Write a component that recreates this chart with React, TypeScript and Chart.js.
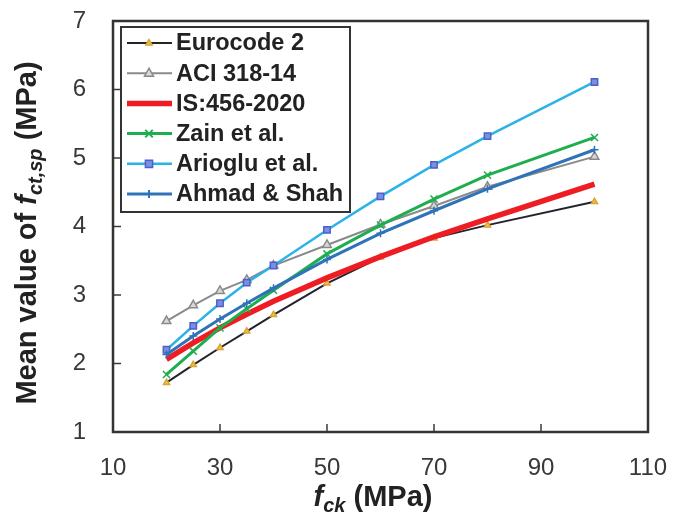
import React, { useEffect, useRef } from "react";
import { Chart, registerables } from "chart.js";

Chart.register(...registerables);

const fckValues = [20, 25, 30, 35, 40, 50, 60, 70, 80, 100];
const eurocode2 = [1.72, 1.98, 2.23, 2.47, 2.71, 3.17, 3.55, 3.83, 4.02, 4.36];
const aci31814 = [2.62, 2.85, 3.06, 3.22, 3.43, 3.73, 4.03, 4.3, 4.58, 5.02];
const is4562020 = [2.06, 2.3, 2.52, 2.72, 2.91, 3.25, 3.56, 3.85, 4.11, 4.62];
const zainEtAl = [1.84, 2.18, 2.52, 2.8, 3.07, 3.6, 4.02, 4.4, 4.75, 5.3];
const arioglu = [2.2, 2.55, 2.88, 3.18, 3.43, 3.95, 4.44, 4.9, 5.32, 6.11];
const ahmadShah = [2.13, 2.4, 2.65, 2.88, 3.1, 3.52, 3.9, 4.23, 4.55, 5.12];

const seriesNames = ["Eurocode 2", "ACI 318-14", "IS:456-2020", "Zain et al.", "Arioglu et al.", "Ahmad & Shah"];
const xTickMin = 10;
const xTickMax = 110;
const xTickStep = 20;
const yTickMin = 1;
const yTickMax = 7;
const yTickStep = 1;

type Sty = {
  line: string;
  width: number;
  point: string;
  radius: number;
  fill: string;
  stroke: string;
};

const styles: Sty[] = [
  { line: "#23232e", width: 2, point: "triangle", radius: 3.5, fill: "#f2c14e", stroke: "#d9a431" },
  { line: "#8a8a8a", width: 2, point: "triangle", radius: 5, fill: "#d8d8d8", stroke: "#8a8a8a" },
  { line: "#ee1d23", width: 5.5, point: "none", radius: 0, fill: "#ee1d23", stroke: "#ee1d23" },
  { line: "#1fae4f", width: 3, point: "crossRot", radius: 5, fill: "#1fae4f", stroke: "#1fae4f" },
  { line: "#2bb2e8", width: 2.5, point: "rect", radius: 4.5, fill: "#7b8ee0", stroke: "#4a62c8" },
  { line: "#2e73b8", width: 3, point: "cross", radius: 4, fill: "#2e73b8", stroke: "#2e73b8" },
];

const FONT = "'Liberation Sans', Arial, sans-serif";

function drawMarker(ctx: CanvasRenderingContext2D, s: Sty, x: number, y: number) {
  if (s.point === "none") return;
  const r = s.radius;
  ctx.save();
  ctx.fillStyle = s.fill;
  ctx.strokeStyle = s.stroke;
  ctx.lineWidth = 1.5;
  ctx.beginPath();
  if (s.point === "triangle") {
    ctx.moveTo(x, y - r);
    ctx.lineTo(x + r * 0.9, y + r * 0.6);
    ctx.lineTo(x - r * 0.9, y + r * 0.6);
    ctx.closePath();
    ctx.fill();
    ctx.stroke();
  } else if (s.point === "rect") {
    ctx.rect(x - r * 0.8, y - r * 0.8, r * 1.6, r * 1.6);
    ctx.fill();
    ctx.stroke();
  } else if (s.point === "crossRot") {
    ctx.lineWidth = 2;
    const d = r * 0.75;
    ctx.moveTo(x - d, y - d);
    ctx.lineTo(x + d, y + d);
    ctx.moveTo(x + d, y - d);
    ctx.lineTo(x - d, y + d);
    ctx.stroke();
  } else if (s.point === "cross") {
    ctx.lineWidth = 2;
    ctx.moveTo(x, y - r);
    ctx.lineTo(x, y + r);
    ctx.stroke();
  }
  ctx.restore();
}

function drawRichText(
  ctx: CanvasRenderingContext2D,
  parts: { t: string; italic?: boolean; sub?: boolean }[],
  size: number,
  cx: number,
  cy: number
) {
  const subSize = Math.round(size * 0.68);
  let total = 0;
  const widths = parts.map((p) => {
    ctx.font = `${p.italic ? "italic " : ""}bold ${p.sub ? subSize : size}px ${FONT}`;
    const w = ctx.measureText(p.t).width;
    total += w;
    return w;
  });
  let x = cx - total / 2;
  ctx.textBaseline = "middle";
  ctx.textAlign = "left";
  parts.forEach((p, i) => {
    ctx.font = `${p.italic ? "italic " : ""}bold ${p.sub ? subSize : size}px ${FONT}`;
    ctx.fillText(p.t, x, p.sub ? cy + size * 0.3 : cy);
    x += widths[i];
  });
}

const framePlugin = {
  id: "framePlugin",
  afterDatasetsDraw(chart: any) {
    const { ctx, chartArea } = chart;
    const { left, right, top, bottom } = chartArea;
    const xs = chart.scales.x;
    const ys = chart.scales.y;
    ctx.save();
    ctx.strokeStyle = "#3a3a3a";
    ctx.lineWidth = 1.5;
    for (let v = xTickMin + xTickStep; v < xTickMax; v += xTickStep) {
      const px = xs.getPixelForValue(v);
      ctx.beginPath();
      ctx.moveTo(px, bottom);
      ctx.lineTo(px, bottom - 8);
      ctx.stroke();
    }
    for (let v = yTickMin + yTickStep; v < yTickMax; v += yTickStep) {
      const py = ys.getPixelForValue(v);
      ctx.beginPath();
      ctx.moveTo(left, py);
      ctx.lineTo(left + 8, py);
      ctx.stroke();
    }
    ctx.strokeStyle = "#333333";
    ctx.lineWidth = 2.5;
    ctx.strokeRect(left, top, right - left, bottom - top);

    // legend
    const lx = left + 8;
    const ly = top + 6;
    const lw = 229;
    const lh = 185;
    ctx.fillStyle = "#ffffff";
    ctx.fillRect(lx, ly, lw, lh);
    ctx.strokeStyle = "#333333";
    ctx.lineWidth = 2;
    ctx.strokeRect(lx, ly, lw, lh);
    seriesNames.forEach((name, i) => {
      const s = styles[i];
      const cy = ly + 16 + i * 30.2;
      ctx.beginPath();
      ctx.strokeStyle = s.line;
      ctx.lineWidth = s.width;
      ctx.moveTo(lx + 6, cy);
      ctx.lineTo(lx + 51, cy);
      ctx.stroke();
      drawMarker(ctx, s, lx + 28, cy);
      ctx.fillStyle = "#222222";
      ctx.font = `bold 23.5px ${FONT}`;
      ctx.textAlign = "left";
      ctx.textBaseline = "middle";
      ctx.fillText(name, lx + 55, cy + 1);
    });

    // axis titles
    ctx.fillStyle = "#222222";
    drawRichText(
      ctx,
      [{ t: "f", italic: true }, { t: "ck", italic: true, sub: true }, { t: " (MPa)" }],
      29,
      373,
      498
    );
    ctx.save();
    ctx.translate(28, 233);
    ctx.rotate(-Math.PI / 2);
    drawRichText(
      ctx,
      [{ t: "Mean value of " }, { t: "f", italic: true }, { t: "ct,sp", italic: true, sub: true }, { t: " (MPa)" }],
      29,
      0,
      0
    );
    ctx.restore();
    ctx.restore();
  },
};

export default function App() {
  const ref = useRef<HTMLCanvasElement | null>(null);
  useEffect(() => {
    document.body.style.margin = "0";
    const all = [eurocode2, aci31814, is4562020, zainEtAl, arioglu, ahmadShah];
    const datasets = all.map((vals, i) => {
      const s = styles[i];
      return {
        label: seriesNames[i],
        data: fckValues.map((x, j) => ({ x, y: vals[j] })),
        borderColor: s.line,
        backgroundColor: s.fill,
        borderWidth: s.width,
        pointStyle: s.point === "none" ? false : (s.point as any),
        pointRadius: s.radius,
        pointBackgroundColor: s.fill,
        pointBorderColor: s.stroke,
        pointBorderWidth: 1.5,
        showLine: true,
        tension: 0,
        order: all.length - i,
      };
    });
    const chart = new Chart(ref.current!, {
      type: "scatter",
      data: { datasets: datasets as any },
      options: {
        animation: false,
        responsive: false,
        layout: { padding: { top: 21, right: 26, left: 0, bottom: 0 } },
        plugins: { legend: { display: false }, tooltip: { enabled: false } },
        scales: {
          x: {
            type: "linear",
            min: xTickMin,
            max: xTickMax,
            grid: { display: false, drawTicks: false },
            border: { display: false },
            ticks: {
              stepSize: xTickStep,
              padding: 22,
              color: "#383838",
              font: { family: FONT, size: 24 },
              maxRotation: 0,
            },
            afterFit: (scale: any) => {
              scale.height = 92;
              scale.paddingLeft = 0;
              scale.paddingRight = 0;
            },
          },
          y: {
            type: "linear",
            min: yTickMin,
            max: yTickMax,
            grid: { display: false, drawTicks: false },
            border: { display: false },
            ticks: {
              stepSize: yTickStep,
              padding: 27,
              color: "#383838",
              font: { family: FONT, size: 24 },
            },
            afterFit: (scale: any) => {
              scale.width = 113;
              scale.paddingTop = 0;
              scale.paddingBottom = 0;
            },
          },
        },
      },
      plugins: [framePlugin],
    });
    return () => chart.destroy();
  }, []);
  return (
    <div style={{ width: 674, height: 524, background: "#fff" }}>
      <canvas ref={ref} width={674} height={524} />
    </div>
  );
}
